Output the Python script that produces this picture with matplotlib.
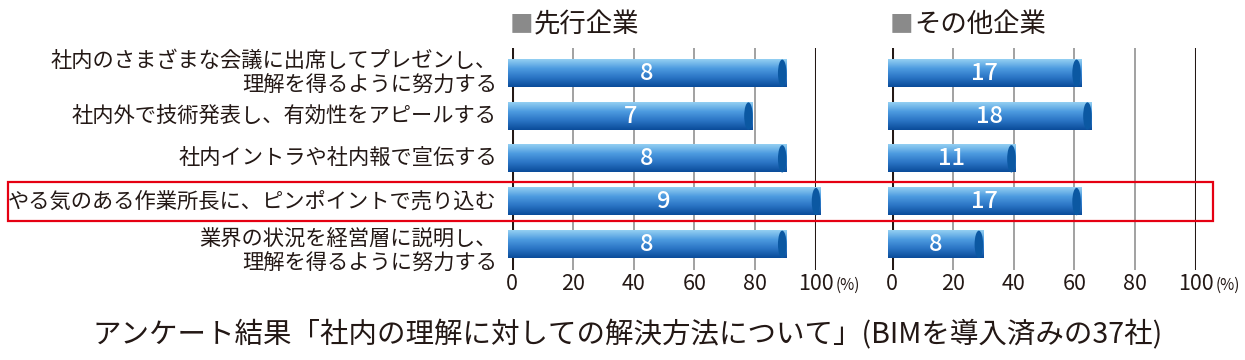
import numpy as np
import matplotlib
matplotlib.use("Agg")
import matplotlib.pyplot as plt
from matplotlib.patches import Ellipse, Polygon, Rectangle
from matplotlib.colors import LinearSegmentedColormap
from matplotlib.transforms import blended_transform_factory

plt.rcParams["font.family"] = ["Noto Sans CJK JP", "DejaVu Sans"]

# survey data: counts of companies per answer
categories = [
    "社内のさまざまな会議に出席してプレゼンし、\n理解を得るように努力する",
    "社内外で技術発表し、有効性をアピールする",
    "社内イントラや社内報で宣伝する",
    "やる気のある作業所長に、ピンポイントで売り込む",
    "業界の状況を経営層に説明し、\n理解を得るように努力する",
]
groups = ["先行企業", "その他企業"]
group_totals = [9, 28]
counts = [
    [8, 7, 8, 9, 8],
    [17, 18, 11, 17, 8],
]
ticks = [0, 20, 40, 60, 80, 100]
highlight = 3
title = "アンケート結果「社内の理解に対しての解決方法について」(BIMを導入済みの37社)"

bar_cmap = LinearSegmentedColormap.from_list(
    "cyl", ["#93cff2", "#4d9be0", "#2a74c4", "#0a4c9a"])
cap_color = "#0b58a2"
bar_h = 0.64
rx = 1.4  # half width of the cylinder end caps, in % units
label_nudge = [0, 0, 0, 0, 0.16]  # small vertical shifts of the row labels


def cylinder(ax, y, value):
    t = np.linspace(np.pi / 2, 3 * np.pi / 2, 30)
    left = np.column_stack([rx * np.cos(t), y + bar_h / 2 * np.sin(t)])
    t2 = np.linspace(-np.pi / 2, np.pi / 2, 30)
    right = np.column_stack([value + rx * np.cos(t2), y + bar_h / 2 * np.sin(t2)])
    pts = np.vstack([left[::-1], right])
    poly = Polygon(pts, closed=True, fc="none", ec="none", clip_on=False)
    ax.add_patch(poly)
    grad = np.linspace(0, 1, 64).reshape(-1, 1)
    im = ax.imshow(grad, cmap=bar_cmap, aspect="auto", origin="lower",
                   extent=(-rx, value + rx, y - bar_h / 2, y + bar_h / 2),
                   interpolation="bilinear", zorder=3, clip_on=False)
    im.set_clip_path(poly)
    ax.add_patch(Ellipse((value, y), 2 * rx, bar_h, fc=cap_color, ec="none",
                         zorder=4, clip_on=False))


fig = plt.figure(figsize=(12.45, 3.6), dpi=100)
lefts = [512 / 1245, 892 / 1245]
axes = []
for gi, group in enumerate(groups):
    ax = fig.add_axes([lefts[gi], 90 / 360, 304 / 1245, 222 / 360])
    axes.append(ax)
    for t in ticks:
        if t in (0, 100):
            ax.axvline(t, color="#231815", lw=2.2, zorder=1)
        else:
            ax.axvline(t, color="#9a9a9a", lw=1.3, zorder=1)
    for i, c in enumerate(counts[gi]):
        pct = c / group_totals[gi] * 100
        cylinder(ax, i, pct)
        ax.text(pct / 2, i, str(c), color="white", fontsize=17,
                fontweight="medium", ha="center", va="center", zorder=5)
    ax.set_xlim(0, 100)
    ax.set_ylim(len(categories) - 0.4, -0.59)
    ax.set_xticks(ticks)
    ax.set_xticklabels([str(t) for t in ticks], fontsize=15.5, color="#231815")
    ax.tick_params(axis="x", length=0, pad=2)
    ax.set_yticks([])
    for s in ax.spines.values():
        s.set_visible(False)
    ax.annotate("(%)", xy=(100, 0), xycoords=("data", "axes fraction"),
                xytext=(14, -5), textcoords="offset points",
                ha="left", va="top", fontsize=11, color="#231815")
    ax.text(-0.008, 1.105, "■", transform=ax.transAxes, color="#8a8a8a",
            fontsize=17, ha="left", va="center")
    ax.annotate(group, xy=(-0.008, 1.105), xycoords="axes fraction",
                xytext=(17.5, 0), textcoords="offset points",
                ha="left", va="center", fontsize=19, color="#231815")

ax0 = axes[0]
for i, cat in enumerate(categories):
    ax0.text(-5, i + label_nudge[i], cat, ha="right", va="center",
             multialignment="right", fontsize=15.3, linespacing=1.2,
             color="#231815")

tr = blended_transform_factory(fig.transFigure, ax0.transData)
fig.patches.append(Rectangle((8 / 1245, highlight - 0.46), 1205 / 1245, 0.92,
                             transform=tr, fill=False, ec="#e50012", lw=1.6))

fig.text(628 / 1245, 25 / 360, title, ha="center", va="center",
         fontsize=20.5, color="#231815")

fig.savefig("out.png", dpi=100)
